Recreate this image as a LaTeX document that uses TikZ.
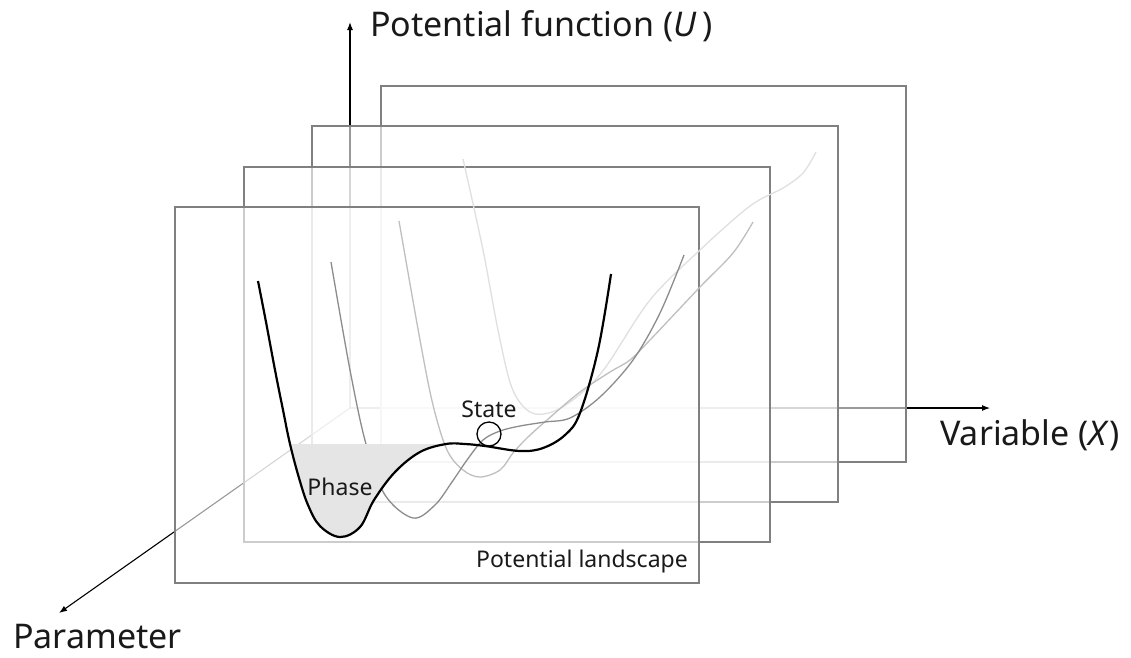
\documentclass[tikz,border=0pt]{standalone}
\usepackage{fontspec}
\setmainfont{Noto Sans}
\usetikzlibrary{arrows.meta}
\begin{document}
\begin{tikzpicture}[x=1pt,y=-1pt,
  axisline/.style={line width=1.1pt, draw=black, -{Latex[length=8pt,width=6pt]}},
  panel/.style={draw=black!50, line width=1.2pt, fill=white, fill opacity=0.6},
  curvea/.style={draw=black, line width=2.2pt},
  curveb/.style={draw=black!45, line width=1.3pt},
  curvec/.style={draw=black!25, line width=1.3pt},
  curved/.style={draw=black!12, line width=1.3pt},
  bigtext/.style={font=\fontsize{34}{40}\selectfont, inner sep=0pt, text=black!90},
  smalltext/.style={font=\fontsize{23}{27}\selectfont, inner sep=0pt, text=black!90},
  ball/.style={circle, draw=black, line width=1.3pt, minimum size=24pt, inner sep=0pt}
]
\useasboundingbox (0,0) rectangle (1131,657);

% axes
\coordinate (O) at (350,408);
\coordinate (Utip) at (350,22);
\coordinate (Xtip) at (990,408);
\coordinate (Ptip) at (59,613);
\draw[axisline] (O) -- (Utip);
\draw[axisline] (O) -- (Xtip);
\draw[axisline] (O) -- (Ptip);

% panels, back to front
\draw[panel] (381,86) rectangle ++(525,376);
\draw[panel] (312,126) rectangle ++(526,376);
\draw[panel] (244,167) rectangle ++(526,375);
\draw[panel] (175,207) rectangle ++(524,376);

% background potentials
\draw[curved] plot[smooth, tension=0.55] coordinates {(463,159) (483,250) (498,330) (512,388) (530,412) (552,412) (578,396) (605,368) (650,300) (700,250) (750,206) (783,188) (803,173) (816,152)};
\draw[curvec] plot[smooth, tension=0.55] coordinates {(399,221) (420,340) (433,405) (447,450) (463,470) (480,477) (500,470) (513,453) (527,438) (547,420) (580,392) (610,372) (630,360) (650,340) (700,287) (733,253) (753,222)};
\draw[curveb] plot[smooth, tension=0.55] coordinates {(331,262) (350,370) (366,444) (385,495) (413,518) (435,505) (452,482) (467,460) (483,440) (500,431) (520,426) (545,422) (570,418) (600,397) (633,360) (660,313) (684,255)};

% phase region
\begin{scope}
  \clip (280,444) rectangle (445,560);
  \fill[black!10] plot[smooth, tension=0.6] coordinates {(258,281) (266,322) (275,370) (283,410) (290,444) (299,478) (308,505) (320,526) (340,537) (360,527) (374,500) (395,472) (420,452) (446,444) (465,444) (485,446) (520,451) (543,448) (565,435) (580,413) (598,350) (611,274)} -- cycle;
\end{scope}

% front potential
\draw[curvea] plot[smooth, tension=0.6] coordinates {(258,281) (266,322) (275,370) (283,410) (290,444) (299,478) (308,505) (320,526) (340,537) (360,527) (374,500) (395,472) (420,452) (446,444) (465,444) (485,446) (520,451) (543,448) (565,435) (580,413) (598,350) (611,274)};

\node[ball] (state) at (489,434) {};
\node[smalltext] (statelabel) at (489,409) {State};
\node[smalltext] (phaselabel) at (340,487) {Phase};
\node[smalltext, anchor=base east] (landscape) at (688,567) {Potential landscape};

\node[bigtext, anchor=base west] (ulabel) at (370,36) {Potential function (\textit{U}\,)};
\node[bigtext, anchor=base west] (xlabel) at (940,445) {Variable (\textit{X})};
\node[bigtext, anchor=base west] (plabel) at (13,648) {Parameter};
\end{tikzpicture}
\end{document}
